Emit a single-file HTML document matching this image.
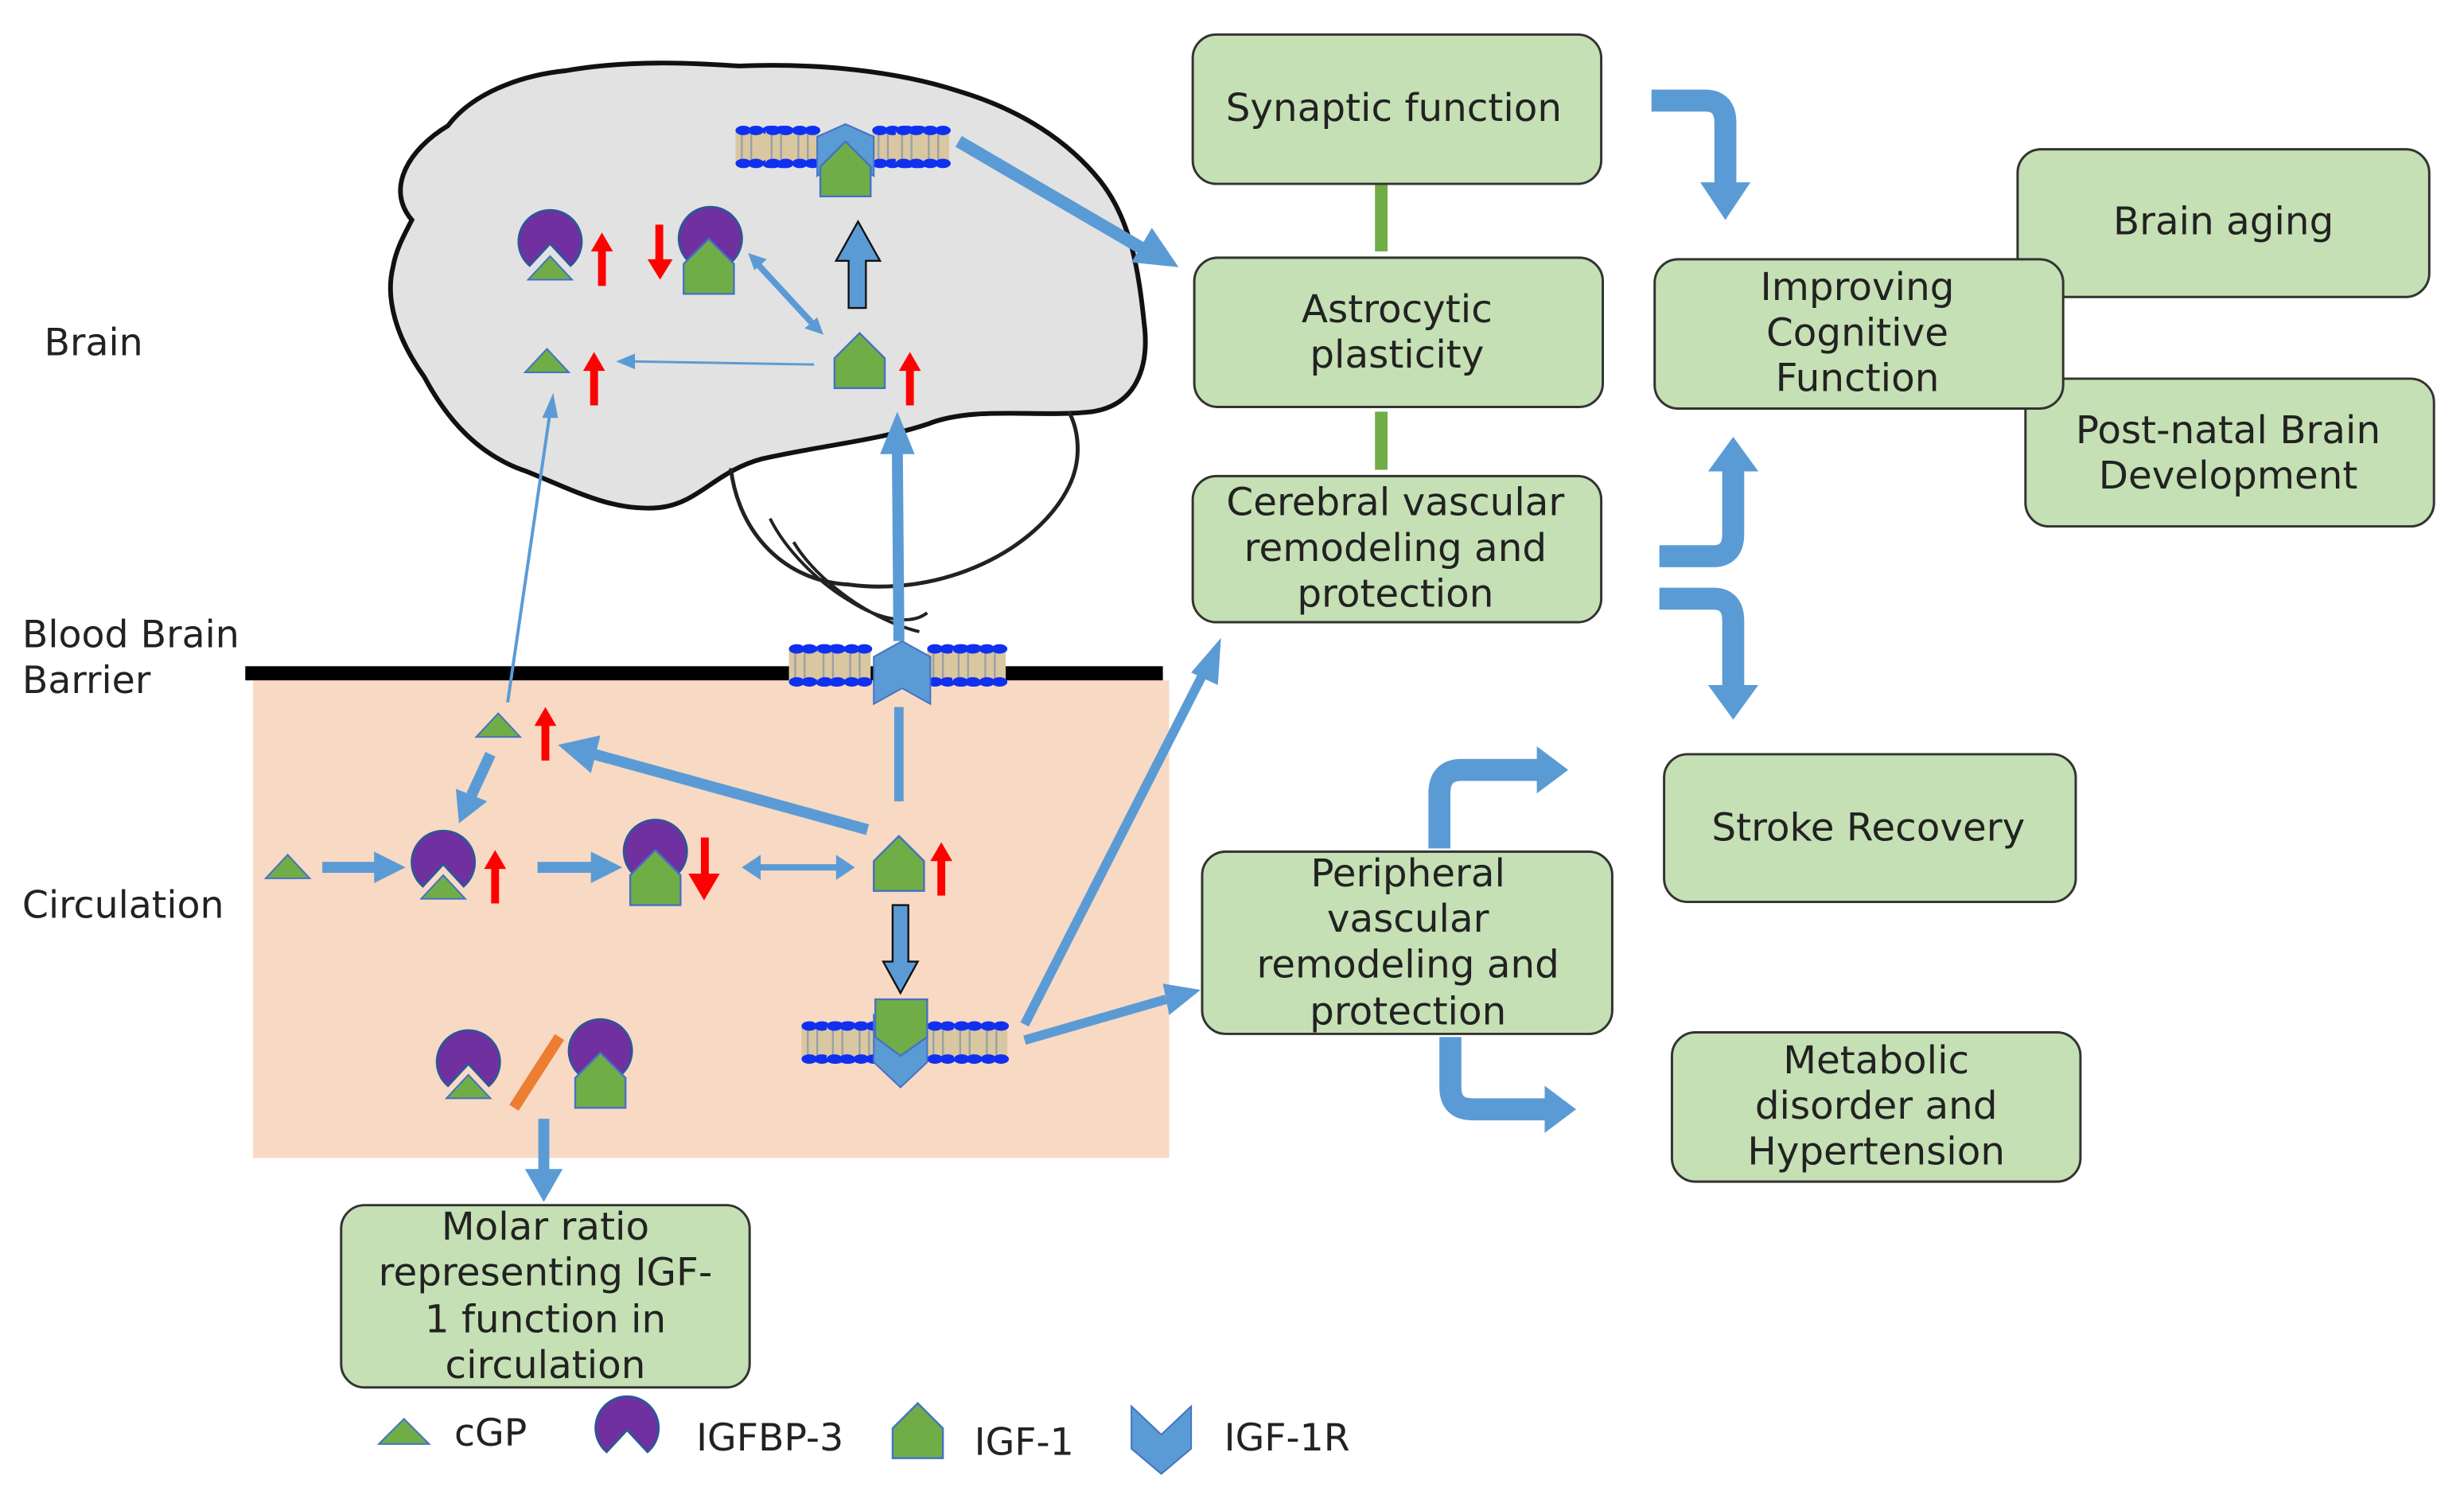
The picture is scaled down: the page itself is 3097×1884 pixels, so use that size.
<!DOCTYPE html>
<html><head><meta charset="utf-8"><style>
html,body{margin:0;padding:0;background:#fff}
svg{display:block}
text{font-family:"DejaVu Sans","Liberation Sans",sans-serif;fill:#222}
</style></head><body>
<svg width="3097" height="1884" viewBox="0 0 1568 954" xmlns="http://www.w3.org/2000/svg">
<defs>
<g id="lip">
<rect x="0" y="3" width="34" height="21" fill="#d8c7a0"/>
<g stroke="#9aa0a8" stroke-width="1.2"><line x1="4" y1="3" x2="4" y2="24"/><line x1="10" y1="3" x2="10" y2="24"/><line x1="21" y1="3" x2="21" y2="24"/><line x1="27" y1="3" x2="27" y2="24"/></g>
<g fill="#1030f0"><ellipse cx="5" cy="3" rx="5" ry="3"/><ellipse cx="13" cy="3" rx="5" ry="3"/><ellipse cx="22" cy="3" rx="5" ry="3"/><ellipse cx="30" cy="3" rx="5" ry="3"/>
<ellipse cx="5" cy="24" rx="5" ry="3"/><ellipse cx="13" cy="24" rx="5" ry="3"/><ellipse cx="22" cy="24" rx="5" ry="3"/><ellipse cx="30" cy="24" rx="5" ry="3"/></g>
</g>
<g id="pac"><path d="M0,0 L-13,14 A20,20 0 1 1 13,14 Z" fill="#7030a0" stroke="#2f5597" stroke-width="1.5"/></g>
<g id="tri"><polygon points="-14,8 0,-7 14,8" fill="#70ad47" stroke="#4472c4" stroke-width="1"/></g>
<g id="pent"><polygon points="-16,0 0,-16 16,0 16,19 -16,19" fill="#70ad47" stroke="#4472c4" stroke-width="1.2"/></g>
<g id="rup"><polygon points="-2.5,22 2.5,22 2.5,0 7,0 0,-12 -7,0 -2.5,0" fill="#ff0000"/></g>
</defs>

<!-- Brain -->
<path d="M262,140 C245,120 260,95 285,80 C300,60 330,48 360,45 C400,38 440,40 470,42 C520,40 570,45 610,58 C650,70 680,90 700,115 C720,140 725,175 728,205 C732,235 722,258 695,262 C660,266 620,258 590,270 C560,280 520,284 485,292 C455,300 445,320 420,323 C390,326 365,312 335,300 C305,290 285,268 270,240 C252,215 245,190 250,170 C252,158 258,148 262,140 Z" fill="#e2e2e2" stroke="#111" stroke-width="3"/>
<path d="M465,298 C470,340 500,370 540,372 C600,380 660,350 680,310 C690,290 685,270 680,262" fill="none" stroke="#222" stroke-width="2.5"/>
<path d="M490,330 C500,350 520,370 540,382 C560,395 580,398 590,390 M505,345 C520,370 555,395 585,402" fill="none" stroke="#222" stroke-width="2"/>

<!-- circulation box -->
<rect x="161" y="433" width="583" height="304" fill="#f8d9c3"/>
<rect x="156" y="424" width="584" height="9" fill="#000"/>

<!-- labels -->
<text x="28" y="226" font-size="24">Brain</text>
<text x="14" y="412" font-size="24">Blood Brain</text>
<text x="14" y="441" font-size="24">Barrier</text>
<text x="14" y="584" font-size="24">Circulation</text>

<!-- top membrane -->
<use href="#lip" x="468" y="80"/><use href="#lip" x="487" y="80"/>
<use href="#lip" x="555" y="80"/><use href="#lip" x="570" y="80"/>
<polygon points="520,87 538,79 556,87 556,112 538,100 520,112" fill="#5b9bd5" stroke="#4472c4"/>
<g transform="translate(538,106)"><use href="#pent"/></g>

<!-- BBB membrane -->
<use href="#lip" x="502" y="410"/><use href="#lip" x="520" y="410"/>
<use href="#lip" x="590" y="410"/><use href="#lip" x="606" y="410"/>
<polygon points="556,418 574,408 592,418 592,448 574,438 556,448" fill="#5b9bd5" stroke="#4472c4"/>

<!-- bottom membrane -->
<use href="#lip" x="510" y="650"/><use href="#lip" x="526" y="650"/>
<use href="#lip" x="590" y="650"/><use href="#lip" x="607" y="650"/>
<polygon points="556,646 573,662 590,646 590,676 573,692 556,676" fill="#5b9bd5" stroke="#4472c4"/>
<polygon points="557,636 590,636 590,660 573,672 557,660" fill="#70ad47" stroke="#4472c4" stroke-width="1.2"/>

<!-- brain icons -->
<g transform="translate(350,155)"><use href="#pac"/></g><g transform="translate(350,170)"><use href="#tri"/></g>
<g transform="translate(383,160)"><use href="#rup"/></g>
<g transform="translate(452,153)"><use href="#pac"/></g><g transform="translate(451,168)"><use href="#pent"/></g>
<polygon points="417,143 422,143 422,165 428,165 420,178 412,165 417,165" fill="#ff0000"/>
<g transform="translate(348,229)"><use href="#tri"/></g>
<g transform="translate(378,236)"><use href="#rup"/></g>
<g transform="translate(547,228)"><use href="#pent"/></g>
<g transform="translate(579,236)"><use href="#rup"/></g>
<!-- brain arrows -->
<line x1="518" y1="232" x2="402" y2="230" stroke="#5b9bd5" stroke-width="1.5"/>
<polygon points="392,230 404,225 404,235" fill="#5b9bd5"/>
<line x1="482" y1="168" x2="518" y2="207" stroke="#5b9bd5" stroke-width="4"/>
<polygon points="476,161 488,165 480,172" fill="#5b9bd5"/><polygon points="524,213 512,209 520,202" fill="#5b9bd5"/>
<polygon points="540,196 551,196 551,166 560,166 546,141 532,166 540,166" fill="#5b9bd5" stroke="#111" stroke-width="1.2"/>
<line x1="610" y1="90" x2="730" y2="160" stroke="#5b9bd5" stroke-width="8"/>
<polygon points="750,170 720,167 733,145" fill="#5b9bd5"/>

<!-- vertical arrows BBB -->
<line x1="572" y1="510" x2="572" y2="450" stroke="#5b9bd5" stroke-width="6"/>
<line x1="572" y1="408" x2="571" y2="285" stroke="#5b9bd5" stroke-width="7"/>
<polygon points="571,262 560,289 582,289" fill="#5b9bd5"/>
<line x1="323" y1="447" x2="350" y2="262" stroke="#5b9bd5" stroke-width="2"/>
<polygon points="352,250 345,266 355,266" fill="#5b9bd5"/>

<!-- circulation icons -->
<g transform="translate(317,461)"><use href="#tri"/></g>
<g transform="translate(347,462)"><use href="#rup"/></g>
<g transform="translate(183,551)"><use href="#tri"/></g>
<g transform="translate(282,550)"><use href="#pac"/></g><g transform="translate(282,564)"><use href="#tri"/></g>
<g transform="translate(315,553)"><use href="#rup"/></g>
<g transform="translate(417,543)"><use href="#pac"/></g><g transform="translate(417,557)"><use href="#pent"/></g>
<polygon points="446,533 451,533 451,556 458,556 448,573 438,556 446,556" fill="#ff0000"/>
<g transform="translate(572,548)"><use href="#pent"/></g>
<g transform="translate(599,548)"><use href="#rup"/></g>
<g transform="translate(298,677)"><use href="#pac"/></g><g transform="translate(298,691)"><use href="#tri"/></g>
<g transform="translate(382,670)"><use href="#pac"/></g><g transform="translate(382,686)"><use href="#pent"/></g>
<line x1="327" y1="705" x2="356" y2="660" stroke="#ed7d31" stroke-width="7"/>

<!-- circulation arrows -->
<line x1="205" y1="552" x2="240" y2="552" stroke="#5b9bd5" stroke-width="7"/><polygon points="258,552 238,542 238,562" fill="#5b9bd5"/>
<line x1="342" y1="552" x2="378" y2="552" stroke="#5b9bd5" stroke-width="7"/><polygon points="396,552 376,542 376,562" fill="#5b9bd5"/>
<line x1="482" y1="552" x2="534" y2="552" stroke="#5b9bd5" stroke-width="4"/>
<polygon points="472,552 484,544 484,560" fill="#5b9bd5"/><polygon points="544,552 532,544 532,560" fill="#5b9bd5"/>
<line x1="552" y1="528" x2="378" y2="480" stroke="#5b9bd5" stroke-width="7"/><polygon points="355,474 382,468 376,492" fill="#5b9bd5"/>
<line x1="312" y1="480" x2="300" y2="506" stroke="#5b9bd5" stroke-width="7"/><polygon points="292,524 290,502 310,510" fill="#5b9bd5"/>
<polygon points="568,576 578,576 578,612 584,612 573,632 562,612 568,612" fill="#5b9bd5" stroke="#111" stroke-width="1.2"/>
<line x1="652" y1="652" x2="765" y2="430" stroke="#5b9bd5" stroke-width="6"/><polygon points="777,406 758,428 775,436" fill="#5b9bd5"/>
<line x1="652" y1="662" x2="742" y2="636" stroke="#5b9bd5" stroke-width="6"/><polygon points="764,630 740,626 744,646" fill="#5b9bd5"/>
<line x1="346" y1="712" x2="346" y2="746" stroke="#5b9bd5" stroke-width="7"/><polygon points="346,765 334,744 358,744" fill="#5b9bd5"/>

<!-- green connectors -->
<rect x="875" y="117" width="8" height="43" fill="#70ad47"/>
<rect x="875" y="262" width="8" height="37" fill="#70ad47"/>

<!-- bent arrows -->
<g fill="none" stroke="#5b9bd5" stroke-width="14" stroke-linejoin="round">
<path d="M1051,64 L1085,64 Q1098,64 1098,78 L1098,118"/>
<path d="M1056,354 L1090,354 Q1103,354 1103,340 L1103,298"/>
<path d="M1056,381 L1090,381 Q1103,381 1103,395 L1103,438"/>
<path d="M916,540 L916,505 Q916,490 930,490 L980,490"/>
<path d="M923,660 L923,692 Q923,706 937,706 L985,706"/>
</g>
<g fill="#5b9bd5">
<polygon points="1082,116 1114,116 1098,140"/>
<polygon points="1087,300 1119,300 1103,278"/>
<polygon points="1087,436 1119,436 1103,458"/>
<polygon points="978,475 978,505 998,490"/>
<polygon points="983,691 983,721 1003,706"/>
</g>

<!-- boxes -->
<g fill="#c5e0b4" stroke="#333" stroke-width="1.5">
<rect x="759" y="22" width="260" height="95" rx="15"/>
<rect x="760" y="164" width="260" height="95" rx="15"/>
<rect x="759" y="303" width="260" height="93" rx="15"/>
<rect x="1284" y="95" width="262" height="94" rx="15"/>
<rect x="1289" y="241" width="260" height="94" rx="15"/>
<rect x="1053" y="165" width="260" height="95" rx="15"/>
<rect x="1059" y="480" width="262" height="94" rx="15"/>
<rect x="765" y="542" width="261" height="116" rx="15"/>
<rect x="1064" y="657" width="260" height="95" rx="15"/>
<rect x="217" y="767" width="260" height="116" rx="15"/>
</g>
<g font-size="24.5" text-anchor="middle">
<text x="887" y="77">Synaptic function</text>
<text x="889" y="205">Astrocytic</text><text x="889" y="234">plasticity</text>
<text x="888" y="328">Cerebral vascular</text><text x="888" y="357">remodeling and</text><text x="888" y="386">protection</text>
<text x="1415" y="149">Brain aging</text>
<text x="1418" y="282">Post-natal Brain</text><text x="1418" y="311">Development</text>
<text x="1182" y="191">Improving</text><text x="1182" y="220">Cognitive</text><text x="1182" y="249">Function</text>
<text x="1189" y="535">Stroke Recovery</text>
<text x="896" y="564">Peripheral</text><text x="896" y="593">vascular</text><text x="896" y="622">remodeling and</text><text x="896" y="652">protection</text>
<text x="1194" y="683">Metabolic</text><text x="1194" y="712">disorder and</text><text x="1194" y="741">Hypertension</text>
<text x="347" y="789">Molar ratio</text><text x="347" y="818">representing IGF-</text><text x="347" y="848">1 function in</text><text x="347" y="877">circulation</text>
</g>

<!-- legend -->
<g transform="translate(257,911)"><polygon points="-16,8 0,-8 16,8" fill="#70ad47" stroke="#4472c4"/></g>
<text x="289" y="920" font-size="24">cGP</text>
<g transform="translate(399,910)"><use href="#pac"/></g>
<text x="443" y="923" font-size="24">IGFBP-3</text>
<g transform="translate(584,909)"><use href="#pent"/></g>
<text x="620" y="926" font-size="24">IGF-1</text>
<polygon points="720,895 739,913 758,895 758,922 739,938 720,922" fill="#5b9bd5" stroke="#4472c4"/>
<text x="779" y="923" font-size="24">IGF-1R</text>
</svg>
</body></html>
